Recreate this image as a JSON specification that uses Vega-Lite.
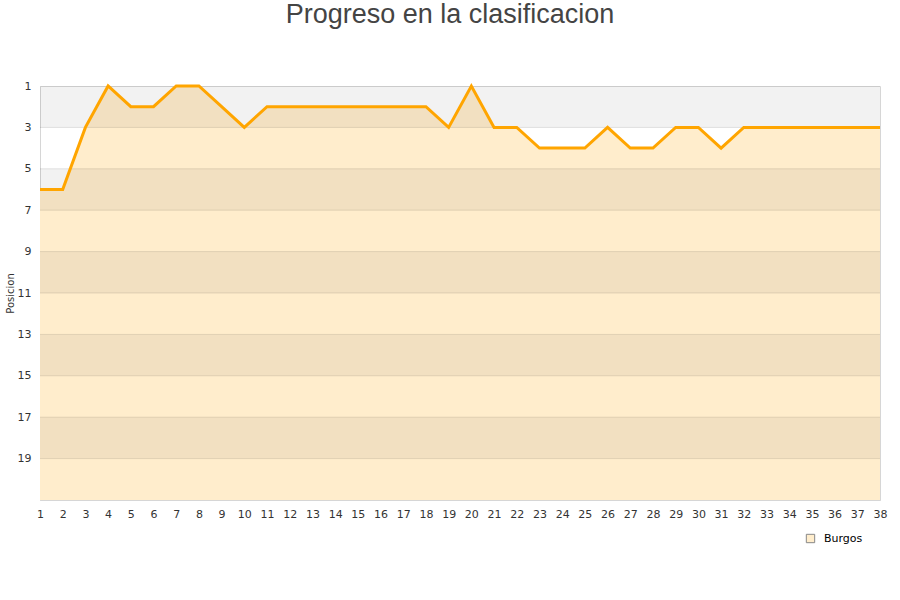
{
  "$schema": "https://vega.github.io/schema/vega-lite/v6.json",
  "width": 840,
  "height": 414,
  "autosize": {"type": "none"},
  "padding": {"left": 40, "top": 86, "right": 20, "bottom": 100},
  "background": "white",
  "title": {
    "text": "Progreso en la clasificacion",
    "font": "Liberation Sans",
    "fontSize": 27,
    "fontWeight": "normal",
    "color": "#444444",
    "anchor": "middle",
    "dx": -10,
    "offset": 51
  },
  "config": {
    "view": {"stroke": "#d6d6d6", "strokeWidth": 1},
    "axis": {
      "labelFont": "DejaVu Sans",
      "labelFontSize": 11,
      "labelColor": "#333333",
      "titleFont": "DejaVu Sans",
      "titleFontSize": 10,
      "titleFontWeight": "normal",
      "titleColor": "#333333",
      "domainColor": "#d6d6d6",
      "ticks": false,
      "grid": false
    },
    "axisX": {"labelOverlap": false, "labelFlush": false},
    "legend": {
      "labelFont": "DejaVu Sans",
      "labelFontSize": 11,
      "labelColor": "#000000"
    }
  },
  "datasets": {
    "bands": [
      {"y1": 1, "y2": 3},
      {"y1": 5, "y2": 7},
      {"y1": 9, "y2": 11},
      {"y1": 13, "y2": 15},
      {"y1": 17, "y2": 19}
    ],
    "grid": [
      {"g": 3}, {"g": 5}, {"g": 7}, {"g": 9}, {"g": 11},
      {"g": 13}, {"g": 15}, {"g": 17}, {"g": 19}
    ],
    "pos": [
      {"jornada": 1, "posicion": 6, "equipo": "Burgos"},
      {"jornada": 2, "posicion": 6, "equipo": "Burgos"},
      {"jornada": 3, "posicion": 3, "equipo": "Burgos"},
      {"jornada": 4, "posicion": 1, "equipo": "Burgos"},
      {"jornada": 5, "posicion": 2, "equipo": "Burgos"},
      {"jornada": 6, "posicion": 2, "equipo": "Burgos"},
      {"jornada": 7, "posicion": 1, "equipo": "Burgos"},
      {"jornada": 8, "posicion": 1, "equipo": "Burgos"},
      {"jornada": 9, "posicion": 2, "equipo": "Burgos"},
      {"jornada": 10, "posicion": 3, "equipo": "Burgos"},
      {"jornada": 11, "posicion": 2, "equipo": "Burgos"},
      {"jornada": 12, "posicion": 2, "equipo": "Burgos"},
      {"jornada": 13, "posicion": 2, "equipo": "Burgos"},
      {"jornada": 14, "posicion": 2, "equipo": "Burgos"},
      {"jornada": 15, "posicion": 2, "equipo": "Burgos"},
      {"jornada": 16, "posicion": 2, "equipo": "Burgos"},
      {"jornada": 17, "posicion": 2, "equipo": "Burgos"},
      {"jornada": 18, "posicion": 2, "equipo": "Burgos"},
      {"jornada": 19, "posicion": 3, "equipo": "Burgos"},
      {"jornada": 20, "posicion": 1, "equipo": "Burgos"},
      {"jornada": 21, "posicion": 3, "equipo": "Burgos"},
      {"jornada": 22, "posicion": 3, "equipo": "Burgos"},
      {"jornada": 23, "posicion": 4, "equipo": "Burgos"},
      {"jornada": 24, "posicion": 4, "equipo": "Burgos"},
      {"jornada": 25, "posicion": 4, "equipo": "Burgos"},
      {"jornada": 26, "posicion": 3, "equipo": "Burgos"},
      {"jornada": 27, "posicion": 4, "equipo": "Burgos"},
      {"jornada": 28, "posicion": 4, "equipo": "Burgos"},
      {"jornada": 29, "posicion": 3, "equipo": "Burgos"},
      {"jornada": 30, "posicion": 3, "equipo": "Burgos"},
      {"jornada": 31, "posicion": 4, "equipo": "Burgos"},
      {"jornada": 32, "posicion": 3, "equipo": "Burgos"},
      {"jornada": 33, "posicion": 3, "equipo": "Burgos"},
      {"jornada": 34, "posicion": 3, "equipo": "Burgos"},
      {"jornada": 35, "posicion": 3, "equipo": "Burgos"},
      {"jornada": 36, "posicion": 3, "equipo": "Burgos"},
      {"jornada": 37, "posicion": 3, "equipo": "Burgos"},
      {"jornada": 38, "posicion": 3, "equipo": "Burgos"}
    ]
  },
  "resolve": {"scale": {"y": "shared", "x": "shared"}},
  "layer": [
    {
      "data": {"name": "pos"},
      "mark": {"type": "area", "opacity": 1, "interpolate": "linear"},
      "encoding": {
        "x": {
          "field": "jornada", "type": "quantitative",
          "scale": {"domain": [1, 38], "nice": false, "zero": false},
          "axis": {"values": [1,2,3,4,5,6,7,8,9,10,11,12,13,14,15,16,17,18,19,20,21,22,23,24,25,26,27,28,29,30,31,32,33,34,35,36,37,38], "title": null, "labelPadding": 8, "labelFlush": false, "labelOverlap": false, "labelFontSize": 11, "labelFont": "DejaVu Sans", "labelColor": "#333333", "ticks": false, "grid": false, "domainColor": "#d6d6d6"}
        },
        "y": {
          "field": "posicion", "type": "quantitative",
          "scale": {"domain": [1, 21], "reverse": true, "zero": false, "nice": false},
          "axis": {"values": [1,3,5,7,9,11,13,15,17,19], "title": "Posicion", "labelPadding": 9, "titlePadding": 2, "labelFontSize": 11, "labelFont": "DejaVu Sans", "labelColor": "#333333", "titleFont": "DejaVu Sans", "titleFontSize": 10, "titleFontWeight": "normal", "titleColor": "#333333", "ticks": false, "grid": false, "domainColor": "#d6d6d6", "labelOverlap": false}
        },
        "y2": {"datum": 21},
        "color": {
          "field": "equipo", "type": "nominal",
          "scale": {"range": ["#FFEDCC"]},
          "legend": {
            "title": null,
            "orient": "none",
            "legendX": 765,
            "legendY": 447,
            "symbolType": "square",
            "symbolSize": 70,
            "symbolStrokeColor": "#888888",
            "symbolStrokeWidth": 1,
            "symbolOpacity": 1,
            "labelOffset": 8,
            "labelFontSize": 11,
            "labelFont": "DejaVu Sans",
            "labelColor": "#000000"
          }
        }
      }
    },
    {
      "data": {"name": "bands"},
      "mark": {"type": "rect", "color": "#000000", "opacity": 0.05},
      "encoding": {
        "y": {"field": "y1", "type": "quantitative"},
        "y2": {"field": "y2"}
      }
    },
    {
      "data": {"name": "grid"},
      "mark": {"type": "rule", "color": "#000000", "opacity": 0.1, "strokeWidth": 1},
      "encoding": {
        "y": {"field": "g", "type": "quantitative"}
      }
    },
    {
      "data": {"name": "pos"},
      "mark": {"type": "line", "color": "#FFA500", "strokeWidth": 3, "interpolate": "linear"},
      "encoding": {
        "x": {"field": "jornada", "type": "quantitative", "axis": {"values": [1,2,3,4,5,6,7,8,9,10,11,12,13,14,15,16,17,18,19,20,21,22,23,24,25,26,27,28,29,30,31,32,33,34,35,36,37,38], "title": null, "labelPadding": 8, "labelFlush": false, "labelOverlap": false}},
        "y": {"field": "posicion", "type": "quantitative"}
      }
    }
  ]
}
